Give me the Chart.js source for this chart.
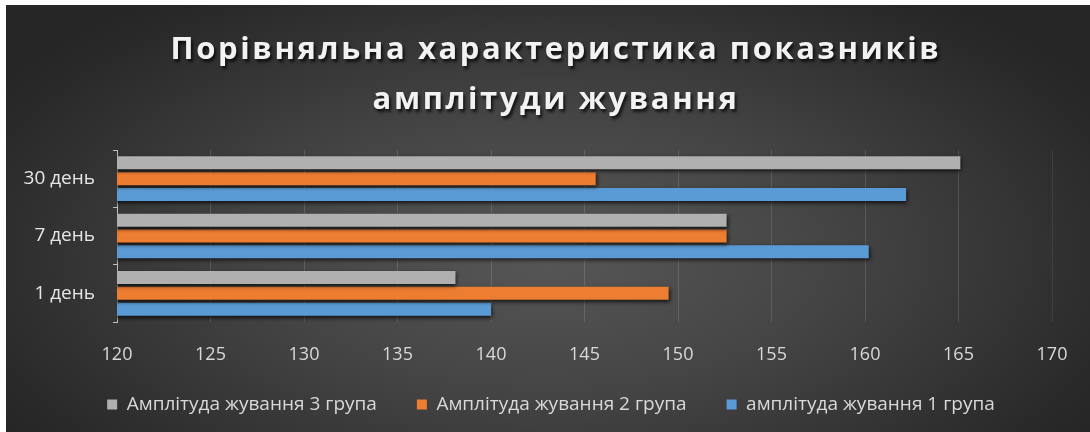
<!DOCTYPE html>
<html>
<head>
<meta charset="utf-8">
<script src="https://cdn.jsdelivr.net/npm/chart.js@4"></script>
<style>
  html, body { margin: 0; padding: 0; background: #ffffff; }
  #wrap {
    position: absolute; left: 6px; top: 5px; width: 1084px; height: 427px;
    background: radial-gradient(ellipse 60% 75% at 50% 58%, #575757 0%, #444444 45%, #2a2a2a 90%, #262626 100%);
    overflow: hidden;
  }
  #title {
    position: absolute; left: 16px; top: 17px; width: 1068px; text-align: center;
    font-family: "Open Sans", "Noto Sans", sans-serif; font-weight: 700;
    font-size: 31px; line-height: 50px; letter-spacing: 2.6px; color: #f2f2f2;
    text-shadow: 2px 3px 3px rgba(0,0,0,0.7);
  }
  canvas { position: absolute; left: 0; top: 0; }
</style>
</head>
<body>
<div id="wrap">
  <canvas id="chart" width="1084" height="427"></canvas>
  <div id="title">Порівняльна характеристика показників<br>амплітуди жування</div>
</div>
<script>
const categories = ['30 день', '7 день', '1 день']
const group3 = [165.1, 152.6, 138.1]
const group2 = [145.6, 152.6, 149.5]
const group1 = [162.2, 160.2, 140.0]
const seriesNames = ['Амплітуда жування 3 група', 'Амплітуда жування 2 група', 'амплітуда жування 1 група']
const xMin = 120
const xMax = 170
const xStep = 5

const font = '"Open Sans", "Noto Sans", sans-serif'

// dark drop shadow under the bars
const barShadow = {
  id: 'barShadow',
  beforeDatasetsDraw (chart) {
    const ctx = chart.ctx
    ctx.save()
    ctx.shadowColor = 'rgba(0,0,0,0.75)'
    ctx.shadowBlur = 4
    ctx.shadowOffsetX = 1
    ctx.shadowOffsetY = 2
  },
  afterDatasetsDraw (chart) {
    chart.ctx.restore()
  }
}

// keep the legend's wide item gap without it eating the plot height
const legendFix = {
  id: 'legendFix',
  beforeInit (chart) {
    const legend = chart.legend
    const fit = legend.fit
    legend.fit = function () {
      fit.call(this)
      this.height = 63
    }
    const draw = legend.draw
    legend.draw = function (area) {
      this.ctx.save()
      this.ctx.translate(22, -14)
      draw.call(this, area)
      this.ctx.restore()
    }
  }
}

const ctx = document.getElementById('chart')

new Chart(ctx, {
  type: 'bar',
  data: {
    labels: categories,
    datasets: [
      { label: seriesNames[0], data: group3, backgroundColor: '#b0b0b0', borderWidth: 0 },
      { label: seriesNames[1], data: group2, backgroundColor: '#ed7d31', borderWidth: 0 },
      { label: seriesNames[2], data: group1, backgroundColor: '#5b9bd5', borderWidth: 0 }
    ]
  },
  options: {
    indexAxis: 'y',
    responsive: false,
    animation: false,
    devicePixelRatio: 1,
    categoryPercentage: 0.83,
    barPercentage: 0.82,
    layout: {
      padding: { top: 145, right: 38, bottom: 0, left: 0 }
    },
    scales: {
      x: {
        min: xMin,
        max: xMax,
        ticks: {
          stepSize: xStep,
          color: '#d9d9d9',
          font: { family: font, size: 18 },
          padding: 22
        },
        grid: {
          color: (c) => c.tick && c.tick.value === xMax ? 'rgba(255,255,255,0.08)' : 'rgba(255,255,255,0.13)',
          drawTicks: false
        },
        border: { display: false },
        afterFit: function (scale) { scale.height = 47 }
      },
      y: {
        ticks: {
          color: '#e6e6e6',
          font: { family: font, size: 19 },
          padding: 18
        },
        grid: {
          display: true,
          drawOnChartArea: false,
          offset: true,
          tickLength: 4,
          tickColor: '#bfbfbf'
        },
        border: { display: true, color: '#bfbfbf', width: 1 },
        afterFit: function (scale) { scale.width = 111 }
      }
    },
    plugins: {
      title: { display: false },
      tooltip: { enabled: false },
      legend: {
        position: 'bottom',
        labels: {
          color: '#d9d9d9',
          font: { family: font, size: 19 },
          boxWidth: 10,
          boxHeight: 10,
          padding: 40
        }
      }
    }
  },
  plugins: [barShadow, legendFix]
})
</script>
</body>
</html>
